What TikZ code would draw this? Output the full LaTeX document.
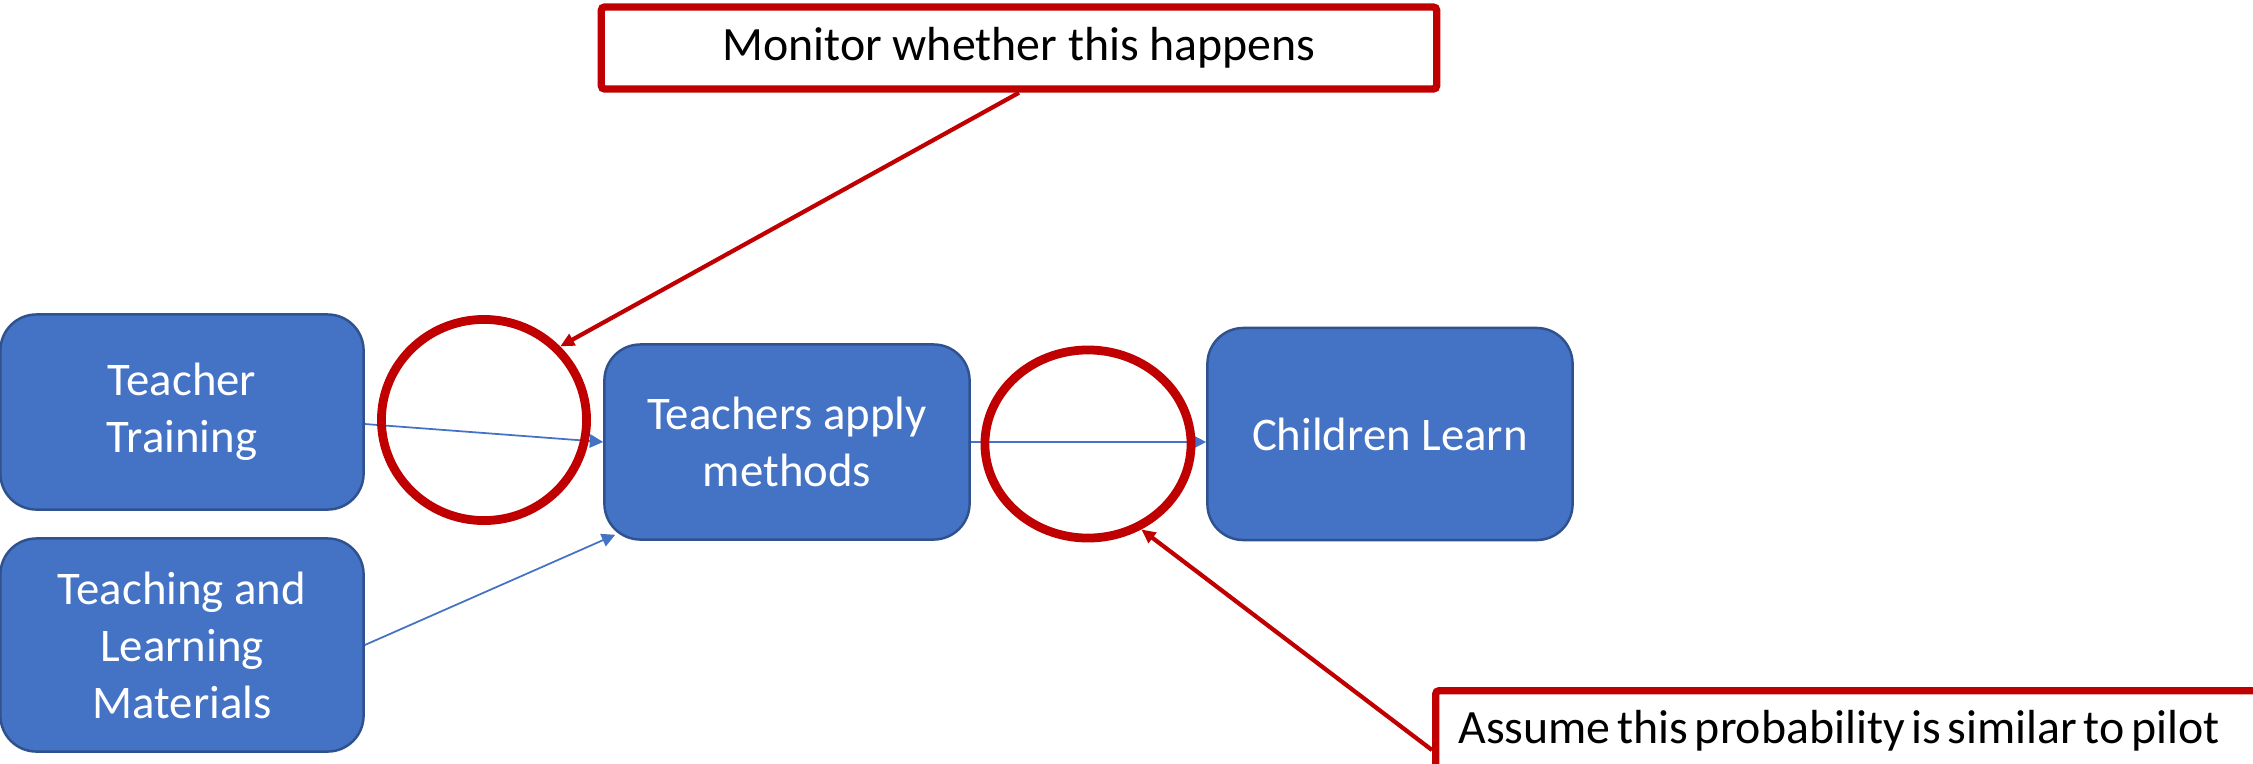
\documentclass[tikz,border=0pt]{standalone}
\usepackage{fontspec}
\setmainfont{Carlito}
\usetikzlibrary{arrows.meta, positioning, shapes.geometric}
\definecolor{boxblue}{HTML}{4472C4}
\definecolor{edgeblue}{HTML}{2F528F}
\definecolor{darkred}{HTML}{C00000}

\begin{document}
\begin{tikzpicture}[x=0.01cm, y=-0.01cm,
      block/.style={draw=edgeblue, line width=0.7pt, fill=boxblue, rounded corners=0.36cm, text=white, align=center, minimum width=3.63cm, minimum height=1.95cm, inner sep=0pt, font=\fontsize{13.3}{16.2}\selectfont},
      gap/.style={draw=darkred, line width=2.5pt, ellipse, inner sep=0pt},
      note/.style={draw=darkred, line width=2.1pt, rounded corners=1pt, font=\fontsize{13.6}{16.2}\selectfont},
      flow/.style={draw=boxblue, line width=0.5pt, -{Triangle[length=3.8pt,width=3.8pt]}},
      hint/.style={draw=darkred, line width=1.2pt, -{Triangle[length=4pt,width=3.6pt]}}
    ]
    \useasboundingbox (0,0) rectangle (2253,763);
    \clip (0,0) rectangle (2253,763);

    \node[block] (train) at (182,412) {Teacher\\Training};
    \node[block, minimum height=2.13cm] (mater) at (182,645) {Teaching and\\Learning\\Materials};
    \node[block, minimum width=3.65cm] (apply) at (787,442) {Teachers apply\\methods};
    \node[block, minimum width=3.65cm, minimum height=2.12cm] (learn) at (1390,434) {Children Learn};

    \draw[flow] ([yshift=-0.12cm]train.east) -- (apply.west);
    \draw[flow] (mater.east) -- ([xshift=0.12cm,yshift=0.06cm]apply.south west);
    \draw[flow] (apply.east) -- (apply.east -| learn.west);

    \node[gap, minimum width=2.05cm, minimum height=2.01cm] (gap1) at (484,420) {};
    \node[gap, minimum width=2.06cm, minimum height=1.88cm] (gap2) at (1088,444) {};

    \node[note, minimum width=8.35cm, minimum height=0.82cm] (monitor) at (1019,48) {Monitor whether this happens};
    \node[note, anchor=north west, text width=12cm, align=left, inner xsep=6.5pt, inner ysep=5pt, text height=10pt, text depth=30pt] (pilot) at (1432,687) {\spaceskip=0.14em Assume this probability is similar to pilot};

    \draw[hint] (monitor.south) -- (gap1.44);
    \draw[hint] ([yshift=-0.63cm]pilot.north west) -- (gap2.-58);
  \end{tikzpicture}
\end{document}
